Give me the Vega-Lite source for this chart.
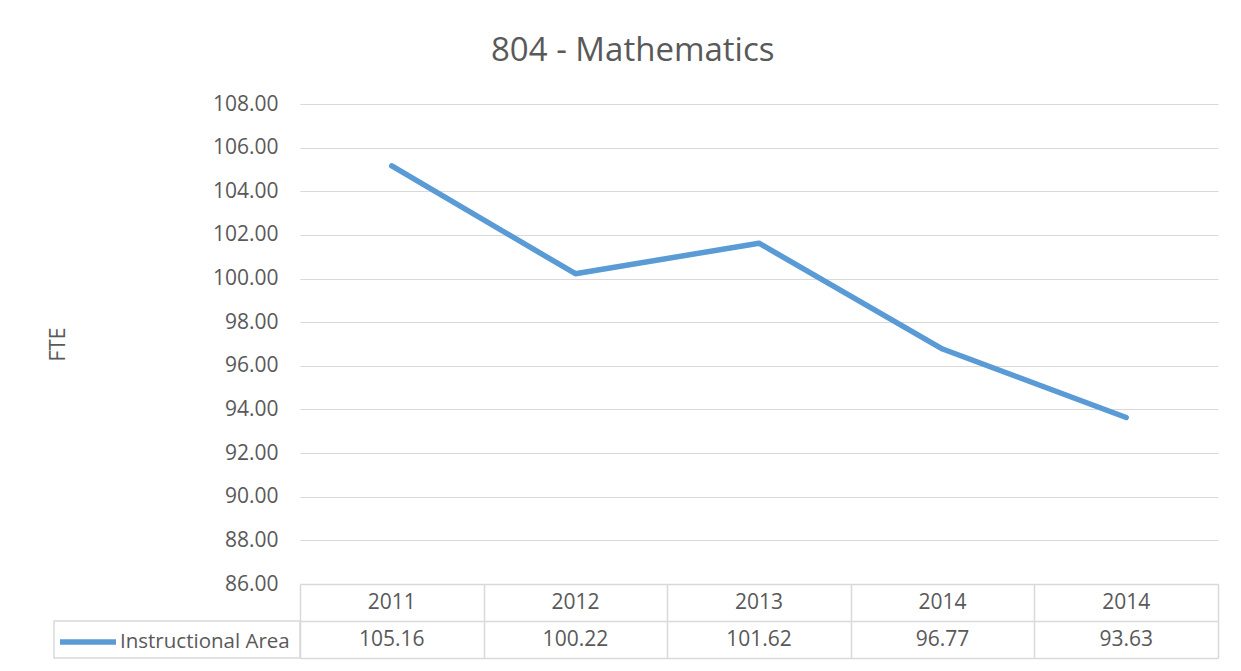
{
  "$schema": "https://vega.github.io/schema/vega-lite/v6.json",
  "background": "white",
  "padding": {"left": 47, "top": 35, "right": 20, "bottom": 10},
  "title": {"text": "804 - Mathematics", "font": "Open Sans", "fontSize": 33, "fontWeight": "normal", "color": "#595959", "anchor": "middle", "frame": "bounds", "offset": 25},
  "datasets": {
    "fte": [
      {"k": "c1", "year": "2011", "fte": 105.16, "series": "Instructional Area"},
      {"k": "c2", "year": "2012", "fte": 100.22, "series": "Instructional Area"},
      {"k": "c3", "year": "2013", "fte": 101.62, "series": "Instructional Area"},
      {"k": "c4", "year": "2014", "fte": 96.77, "series": "Instructional Area"},
      {"k": "c5", "year": "2014", "fte": 93.63, "series": "Instructional Area"}
    ],
    "legendcell": [{"row": "value"}]
  },
  "columns": 2,
  "spacing": 0,
  "bounds": "flush",
  "concat": [
    {
      "width": 246, "height": 480,
      "data": {"values": []},
      "mark": {"type": "point", "opacity": 0}
    },
    {
      "width": 918, "height": 480,
      "data": {"name": "fte"},
      "mark": {"type": "line", "strokeWidth": 5.5, "strokeCap": "round", "strokeJoin": "round"},
      "encoding": {
        "x": {"field": "k", "type": "ordinal", "sort": null, "scale": {"type": "point", "padding": 0.5}, "axis": null},
        "y": {
          "field": "fte", "type": "quantitative",
          "scale": {"domain": [86, 108], "zero": false, "nice": false},
          "axis": {
            "values": [86, 88, 90, 92, 94, 96, 98, 100, 102, 104, 106, 108],
            "format": ".2f", "title": "FTE", "grid": true, "gridColor": "#d9d9d9", "gridWidth": 1.2,
            "domain": false, "ticks": false, "labelPadding": 22,
            "labelFont": "Open Sans", "labelFontSize": 21, "labelColor": "#595959",
            "titleFont": "Open Sans", "titleFontSize": 21, "titleColor": "#595959", "titleFontWeight": "normal",
            "titlePadding": 144
          }
        },
        "color": {
          "field": "series", "type": "nominal",
          "scale": {"domain": ["Instructional Area"], "range": ["#5b9bd5"]},
          "legend": {
            "orient": "none", "legendX": -243, "legendY": 507, "title": null,
            "symbolType": "stroke", "symbolSize": 3136, "symbolStrokeWidth": 5.5,
            "labelFont": "Open Sans", "labelFontSize": 20.5, "labelColor": "#595959", "labelOffset": 1, "labelLimit": 400, "padding": 0
          }
        }
      }
    },
    {
      "width": 246, "height": 74,
      "data": {"name": "legendcell"},
      "mark": {"type": "rect", "fill": "white", "fillOpacity": 0, "stroke": "#d9d9d9", "strokeWidth": 1.5},
      "encoding": {
        "y": {"field": "row", "type": "nominal", "scale": {"domain": ["year", "value"], "paddingInner": 0, "paddingOuter": 0}, "axis": null}
      }
    },
    {
      "width": 918, "height": 74,
      "data": {"name": "fte"},
      "encoding": {
        "x": {
          "field": "k", "type": "ordinal", "sort": null,
          "scale": {"type": "band", "paddingInner": 0, "paddingOuter": 0},
          "axis": {"orient": "top", "labels": false, "ticks": false, "domain": false, "grid": true, "tickBand": "extent", "gridColor": "#d9d9d9", "gridWidth": 1.5, "title": null}
        }
      },
      "layer": [
        {
          "mark": {"type": "text", "font": "Open Sans", "fontSize": 21, "color": "#595959"},
          "encoding": {
            "y": {
              "datum": "year", "type": "nominal",
              "scale": {"domain": ["year", "value"], "paddingInner": 0, "paddingOuter": 0},
              "axis": {"labels": false, "ticks": false, "domain": false, "grid": true, "tickBand": "extent", "gridColor": "#d9d9d9", "gridWidth": 1.5, "title": null}
            },
            "text": {"field": "year"}
          }
        },
        {
          "mark": {"type": "text", "font": "Open Sans", "fontSize": 21, "color": "#595959"},
          "encoding": {
            "y": {"datum": "value", "type": "nominal"},
            "text": {"field": "fte", "format": ".2f"}
          }
        }
      ]
    }
  ],
  "resolve": {"scale": {"color": "independent"}, "legend": {"color": "independent"}},
  "config": {"view": {"stroke": null}, "font": "Open Sans"}
}
